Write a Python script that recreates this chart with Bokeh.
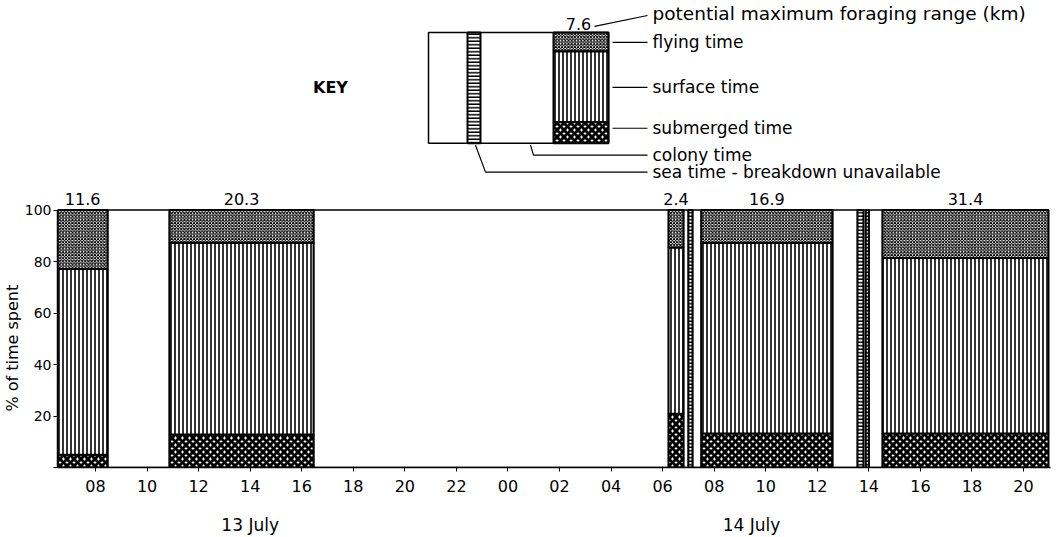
import numpy as np
from bokeh.plotting import figure
from bokeh.models import Range1d, FixedTicker, LinearAxis, Title
from bokeh.core.properties import value
from bokeh.embed import file_html
from bokeh.resources import INLINE

# ---------------- data (hours counted from 00:00 on 13 July) ----------------
trip_start = [6.53, 10.87, 30.23, 31.50, 38.53]
trip_end = [8.47, 16.46, 30.81, 36.59, 44.97]
submerged_pct = [5.0, 12.8, 20.9, 13.2, 13.2]
surface_pct = [72.1, 74.5, 64.6, 74.0, 68.2]
flying_pct = [22.9, 12.7, 14.5, 12.8, 18.6]
max_range_km = [11.6, 20.3, 2.4, 16.9, 31.4]

sea_nb_start = [31.00, 37.56, 37.88]
sea_nb_end = [31.16, 37.79, 38.00]

colony_start = [8.47, 16.46, 30.81, 31.16, 36.59, 37.79, 38.00]
colony_end = [10.87, 30.23, 31.00, 31.50, 37.56, 37.88, 38.53]

tick_hours = list(range(8, 45, 2))
tick_labels = ["%02d" % (h % 24) for h in tick_hours]
y_ticks = [0, 20, 40, 60, 80, 100]
y_tick_labels = ["", "20", "40", "60", "80", "100"]
day_positions = [14.0, 33.45]
day_labels = ["13 July", "14 July"]
y_title = "% of time spent"
key_range_km = 7.6
key_labels = ["potential maximum foraging range (km)", "flying time", "surface time",
              "submerged time", "colony time", "sea time - breakdown unavailable"]

# ---------------- layout / styles ----------------
W, H = 1056, 537
FRAME_L, FRAME_R, FRAME_B = 57, 1050, 468     # frame edges in page pixels
PX_PER_H = 25.778                            # x scale
PX_H8 = 95                                   # page x of 08 h
PX_PER_PCT = 2.58                            # y scale
Y_TITLE_BOTTOM = 412                         # page y where the y-title text starts

def kx(px):  # key layout: page pixel -> hours
    return 8 + (np.asarray(px, dtype=float) - PX_H8) / PX_PER_H

def ky(py):  # key layout: page pixel -> percent units
    return (FRAME_B - np.asarray(py, dtype=float)) / PX_PER_PCT

FONT = value("DejaVu Sans")
FLY = dict(fill_color="white", hatch_pattern="diagonal_cross", hatch_scale=3.2,
           hatch_weight=1.0, hatch_color="black")
SURF = dict(fill_color="white", hatch_pattern="vertical_line", hatch_scale=4,
            hatch_weight=1.6, hatch_color="black")
SUB = dict(fill_color="white", hatch_pattern="diagonal_cross", hatch_scale=7,
           hatch_weight=3.0, hatch_color="black")
SEA = dict(fill_color="white", hatch_pattern="horizontal_line", hatch_scale=3.5,
           hatch_weight=1.5, hatch_color="black")

p = figure(width=W, height=H,
           x_range=Range1d(float(kx(FRAME_L)), float(kx(FRAME_R))),
           y_range=Range1d(0, float(ky(0))),
           min_border_left=FRAME_L, min_border_right=W - FRAME_R, min_border_top=0,
           min_border_bottom=H - FRAME_B,
           output_backend="svg", toolbar_location=None)
p.outline_line_color = None
p.grid.visible = False
p.background_fill_color = "white"
p.border_fill_color = "white"

# ---------------- axes ----------------
xa = p.xaxis[0]
xa.ticker = FixedTicker(ticks=tick_hours)
xa.major_label_overrides = {h: l for h, l in zip(tick_hours, tick_labels)}
xa.minor_tick_line_color = None
xa.major_tick_in = 0
xa.major_tick_out = 4
xa.axis_line_width = 1.5
xa.major_label_standoff = 8
xa.major_label_text_font = "DejaVu Sans"
xa.major_label_text_font_size = "16px"
xa.major_label_text_color = "black"

ya = p.yaxis[0]
ya.ticker = FixedTicker(ticks=y_ticks)
ya.major_label_overrides = {t: l for t, l in zip(y_ticks, y_tick_labels)}
ya.bounds = (0, 100)
ya.minor_tick_line_color = None
ya.major_tick_in = 0
ya.major_tick_out = 4
ya.axis_line_width = 1.5
ya.major_label_standoff = 2
ya.major_label_text_font = "DejaVu Sans"
ya.major_label_text_font_size = "14px"
ya.major_label_text_color = "black"

# y-axis title, placed along the 0-100 part of the scale
p.add_layout(Title(text=y_title, align="left", offset=FRAME_B - Y_TITLE_BOTTOM, standoff=0,
                   text_font="DejaVu Sans", text_font_size="16px", text_font_style="normal",
                   text_color="black"), "left")

day_axis = LinearAxis(ticker=FixedTicker(ticks=day_positions),
                      major_label_overrides={d: l for d, l in zip(day_positions, day_labels)},
                      axis_line_color=None, major_tick_line_color=None,
                      minor_tick_line_color=None, major_label_standoff=14,
                      major_label_text_font="DejaVu Sans", major_label_text_font_size="17px",
                      major_label_text_color="black")
p.add_layout(day_axis, "below")

# ---------------- data marks ----------------
p.quad(left=colony_start, right=colony_end, bottom=0, top=100, fill_color="white",
       line_color="black", line_width=1.5)
p.quad(left=sea_nb_start, right=sea_nb_end, bottom=0, top=100, line_color="black",
       line_width=2, **SEA)

sub_top = np.array(submerged_pct)
surf_top = sub_top + np.array(surface_pct)
fly_top = surf_top + np.array(flying_pct)
zeros = np.zeros(len(trip_start))

p.quad(left=trip_start, right=trip_end, bottom=zeros, top=sub_top, line_color="black",
       line_width=2, **SUB)
p.quad(left=trip_start, right=trip_end, bottom=sub_top, top=surf_top, line_color="black",
       line_width=2, **SURF)
p.quad(left=trip_start, right=trip_end, bottom=surf_top, top=fly_top, line_color="black",
       line_width=2, **FLY)

centers = (np.array(trip_start) + np.array(trip_end)) / 2
p.text(x=centers, y=fly_top, text=["%.1f" % v for v in max_range_km], text_font=FONT,
       text_font_size="16px", text_align="center", text_baseline="middle", y_offset=-11,
       text_color="black")

# ---------------- key (legend drawing, laid out in page pixels) ----------------
p.quad(left=kx([428]), right=kx([608]), top=ky([32]), bottom=ky([143]), fill_color="white",
       line_color="black", line_width=1.5)
p.quad(left=kx([467]), right=kx([480]), top=ky([32]), bottom=ky([143]), line_color="black",
       line_width=2, **SEA)
p.quad(left=kx([553]), right=kx([608]), top=ky([32]), bottom=ky([51]), line_color="black",
       line_width=2, **FLY)
p.quad(left=kx([553]), right=kx([608]), top=ky([51]), bottom=ky([122]), line_color="black",
       line_width=2, **SURF)
p.quad(left=kx([553]), right=kx([608]), top=ky([122]), bottom=ky([143]), line_color="black",
       line_width=2, **SUB)

lead_x = [[594, 647], [612, 647], [612, 647], [612, 647], [530, 533, 647], [475, 485, 647]]
lead_y = [[26, 15], [42, 42], [87, 87], [128, 128], [145, 155, 155], [145, 172, 172]]
p.multi_line(xs=[list(kx(v)) for v in lead_x], ys=[list(ky(v)) for v in lead_y],
             line_color="black", line_width=1.2)
p.text(x=kx([652] * 5), y=ky([42, 87, 128, 155, 172]), text=key_labels[1:],
       text_font=FONT, text_font_size="17px", text_baseline="middle", text_align="left",
       text_color="black")
p.text(x=kx([652]), y=ky([13]), text=key_labels[:1],
       text_font=FONT, text_font_size="18.5px", text_baseline="middle", text_align="left",
       text_color="black")
p.text(x=kx([578]), y=ky([24]), text=["%.1f" % key_range_km], text_font=FONT,
       text_font_size="16px", text_baseline="middle", text_align="center", text_color="black")
p.text(x=kx([330]), y=ky([87]), text=["KEY"], text_font=FONT, text_font_size="16px",
       text_font_style="bold", text_baseline="middle", text_align="center", text_color="black")

open("out.html", "w").write(file_html(p, INLINE))
